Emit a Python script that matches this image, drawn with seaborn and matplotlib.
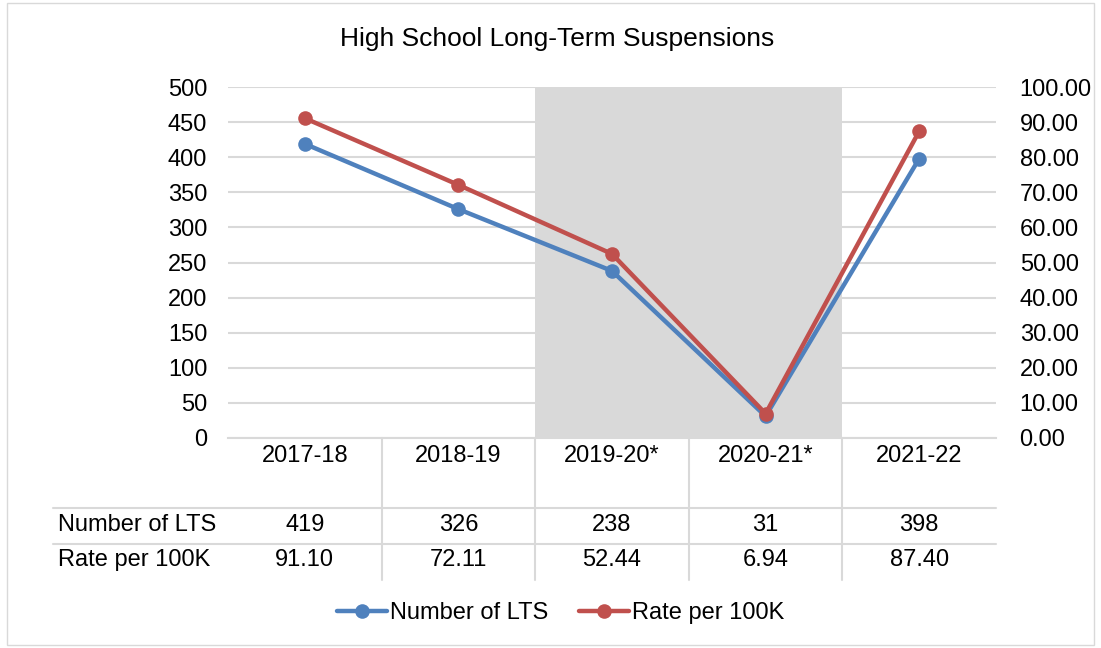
import matplotlib
matplotlib.use("Agg")
import matplotlib.pyplot as plt
import matplotlib.transforms as mtransforms
from matplotlib.lines import Line2D
from matplotlib.patches import Rectangle
import pandas as pd
import seaborn as sns

seasons = ["2017-18", "2018-19", "2019-20*", "2020-21*", "2021-22"]
lts_count = [419, 326, 238, 31, 398]
rate_100k = [91.10, 72.11, 52.44, 6.94, 87.40]
shaded = ["2019-20*", "2020-21*"]

BLUE = "#4F81BD"
RED = "#C0504D"
GRID = "#D9D9D9"
FS = 17

sns.set_style("white")
plt.rcParams["font.family"] = ["Liberation Sans", "DejaVu Sans"]
plt.rcParams["font.size"] = FS
plt.rcParams["text.color"] = "black"
plt.rcParams["xtick.color"] = "black"
plt.rcParams["ytick.color"] = "black"

df = pd.DataFrame({"season": seasons, "lts": lts_count, "rate": rate_100k})

W, H = 1101, 648
fig = plt.figure(figsize=(W / 100, H / 100), dpi=100)
fig.patches.append(Rectangle((7 / W, 3 / H), 1 - 14 / W, 1 - 6 / H, transform=fig.transFigure,
                             fill=False, edgecolor=GRID, linewidth=1))

left, right, top, bottom = 228, 996, 87, 438
ax = fig.add_axes([left / W, 1 - bottom / H, (right - left) / W, (bottom - top) / H])
ax2 = ax.twinx()

# shaded band for the pandemic years
idx = [seasons.index(s) for s in shaded]
ax.axvspan(min(idx) - 0.5, max(idx) + 0.5, color=GRID, zorder=0, linewidth=0)

sns.lineplot(data=df, x="season", y="lts", ax=ax, color=BLUE, linewidth=3.2,
             marker="o", markersize=10.5, markeredgewidth=0, sort=False, zorder=3)
sns.lineplot(data=df, x="season", y="rate", ax=ax2, color=RED, linewidth=3.2,
             marker="o", markersize=10.5, markeredgewidth=0, sort=False, zorder=3)

ax.set_xlim(-0.5, len(seasons) - 0.5)
ax.set_ylim(0, 500)
ax.set_yticks(range(0, 501, 50))
ax2.set_ylim(0, 100)
ax2.set_yticks(range(0, 101, 10))
ax2.set_yticklabels([f"{v:.2f}" for v in range(0, 101, 10)])

for a in (ax, ax2):
    for s in a.spines.values():
        s.set_visible(False)
    a.set_xlabel("")
    a.set_ylabel("")
ax.spines["bottom"].set_visible(True)
ax.spines["bottom"].set_color(GRID)
ax.spines["bottom"].set_linewidth(1.5)
ax.yaxis.grid(True, color=GRID, linewidth=1.5)
ax.set_axisbelow(True)
ax.tick_params(axis="y", length=0, pad=15, labelsize=FS)
ax2.tick_params(axis="y", length=0, pad=17, labelsize=FS)
ax.set_xticks(range(len(seasons)))
ax.set_xticklabels(seasons)
ax.tick_params(axis="x", length=0, pad=5, labelsize=FS)

# data table below the axis
tr = mtransforms.blended_transform_factory(ax.transData, ax.transAxes)
ph = bottom - top
def yfrac(py):
    return (bottom - py) / ph
band = (right - left) / len(seasons)
x_left = (53 - left) / band - 0.5
for py in (508, 544):
    ax.add_line(Line2D([x_left, len(seasons) - 0.5], [yfrac(py)] * 2, transform=tr,
                       color=GRID, linewidth=1.5, clip_on=False))
for i in range(1, len(seasons)):
    ax.add_line(Line2D([i - 0.5, i - 0.5], [0, yfrac(580)], transform=tr,
                       color=GRID, linewidth=1.5, clip_on=False))
label_x = (58 - left) / band - 0.5
ax.text(label_x, yfrac(525), "Number of LTS", transform=tr, ha="left", va="center", fontsize=FS)
ax.text(label_x, yfrac(560), "Rate per 100K", transform=tr, ha="left", va="center", fontsize=FS)
for i, (n, r) in enumerate(zip(lts_count, rate_100k)):
    ax.text(i, yfrac(525), f"{n}", transform=tr, ha="center", va="center", fontsize=FS)
    ax.text(i, yfrac(560), f"{r:.2f}", transform=tr, ha="center", va="center", fontsize=FS)

fig.text(557 / W, 1 - 39 / H, "High School Long-Term Suspensions", ha="center", va="center", fontsize=19)

handles = [Line2D([], [], color=BLUE, linewidth=3.2, marker="o", markersize=10.5, markeredgewidth=0),
           Line2D([], [], color=RED, linewidth=3.2, marker="o", markersize=10.5, markeredgewidth=0)]
fig.legend(handles, ["Number of LTS", "Rate per 100K"], loc="center", ncol=2,
           bbox_to_anchor=(561 / W, 1 - 613 / H), frameon=False, fontsize=FS,
           handlelength=2.1, handletextpad=0.15, columnspacing=1.3)

fig.savefig("out.png", dpi=100)
